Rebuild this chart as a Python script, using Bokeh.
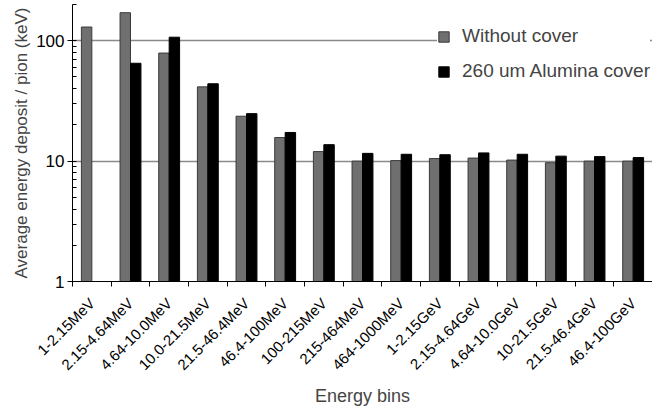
import math
import numpy as np
from bokeh.plotting import figure
from bokeh.models import FixedTicker, Range1d, Legend, LegendItem, ColumnDataSource
from bokeh.embed import file_html
from bokeh.resources import INLINE

categories = ["1-2.15MeV", "2.15-4.64MeV", "4.64-10.0MeV", "10.0-21.5MeV", "21.5-46.4MeV",
              "46.4-100MeV", "100-215MeV", "215-464MeV", "464-1000MeV", "1-2.15GeV",
              "2.15-4.64GeV", "4.64-10.0GeV", "10-21.5GeV", "21.5-46.4GeV", "46.4-100GeV"]
without_cover = [130, 171, 79, 41.4, 23.6, 15.7, 12.0, 10.0, 10.1, 10.5, 10.6, 10.2, 9.7, 10.0, 10.0]
alumina_cover = [float("nan"), 65, 107, 43.9, 24.8, 17.3, 13.7, 11.6, 11.4, 11.3, 11.7, 11.4, 11.0, 10.9, 10.7]
y_ticks = [1, 10, 100]
y_tick_labels = ["1", "10", "100"]
y_minor = [2, 3, 4, 5, 6, 7, 8, 9, 20, 30, 40, 50, 60, 70, 80, 90, 200]
x_title = "Energy bins"
y_title = "Average energy deposit / pion (keV)"

n = len(categories)
idx = np.arange(n)
bw = 0.27
centers = idx + 0.5

src = ColumnDataSource(dict(
    x1=centers - bw / 2, x2=centers + bw / 2,
    a=without_cover, b=alumina_cover,
))

FONT = "Liberation Sans"

p = figure(width=652, height=409, output_backend="svg", toolbar_location=None,
           x_range=Range1d(0, n), y_range=Range1d(1, 200), y_axis_type="log",
           min_border_left=72, min_border_right=0, min_border_top=4, min_border_bottom=128)
p.outline_line_color = None
p.background_fill_color = "white"
p.border_fill_color = "white"

r1 = p.vbar(x="x1", top="a", bottom=1, width=bw, source=src,
            fill_color="#6f6f6f", line_color="#3a3a3a", line_width=1)
r2 = p.vbar(x="x2", top="b", bottom=1, width=bw, source=src,
            fill_color="black", line_color="black", line_width=1)

# x axis
xa = p.xaxis[0]
xa.ticker = FixedTicker(ticks=list(centers), minor_ticks=list(range(n + 1)))
xa.major_label_overrides = {float(c): lab for c, lab in zip(centers, categories)}
xa.major_label_orientation = math.pi / 4
xa.major_tick_in = 0
xa.major_tick_out = 0
xa.minor_tick_in = 0
xa.minor_tick_out = 5
xa.minor_tick_line_color = "black"
xa.axis_line_color = "black"
xa.major_label_text_font = FONT
xa.major_label_text_font_size = "15px"
xa.major_label_text_color = "black"
xa.major_label_standoff = 14
xa.axis_label = x_title
xa.axis_label_text_font = FONT
xa.axis_label_text_font_style = "normal"
xa.axis_label_text_font_size = "18px"
xa.axis_label_standoff = 4

# y axis
ya = p.yaxis[0]
ya.ticker = FixedTicker(ticks=y_ticks, minor_ticks=y_minor)
ya.major_label_overrides = {float(t): s for t, s in zip(y_ticks, y_tick_labels)}
ya.major_tick_in = 4
ya.major_tick_out = 5
ya.minor_tick_in = 4
ya.minor_tick_out = 0
ya.major_tick_line_color = "black"
ya.minor_tick_line_color = "black"
ya.major_label_text_font = FONT
ya.major_label_text_font_size = "17px"
ya.major_label_text_color = "black"
ya.major_label_standoff = 3
ya.axis_label = y_title
ya.axis_label_text_font = FONT
ya.axis_label_text_font_style = "normal"
ya.axis_label_text_font_size = "17px"
ya.axis_label_standoff = 2

p.xgrid.grid_line_color = None
p.ygrid.grid_line_color = "#8a8a8a"
p.ygrid.grid_line_width = 1.3

legend = Legend(items=[LegendItem(label="Without cover", renderers=[r1]),
                       LegendItem(label="260 um Alumina cover", renderers=[r2])],
                location=(365, 199))
legend.background_fill_color = "white"
legend.background_fill_alpha = 1
legend.border_line_color = None
legend.padding = 14
legend.margin = 0
legend.spacing = 13
legend.glyph_width = 13
legend.glyph_height = 13
legend.label_height = 20
legend.label_standoff = 12
legend.label_text_font = FONT
legend.label_text_font_size = "19px"
p.add_layout(legend)

open("out.html", "w").write(file_html(p, INLINE))
